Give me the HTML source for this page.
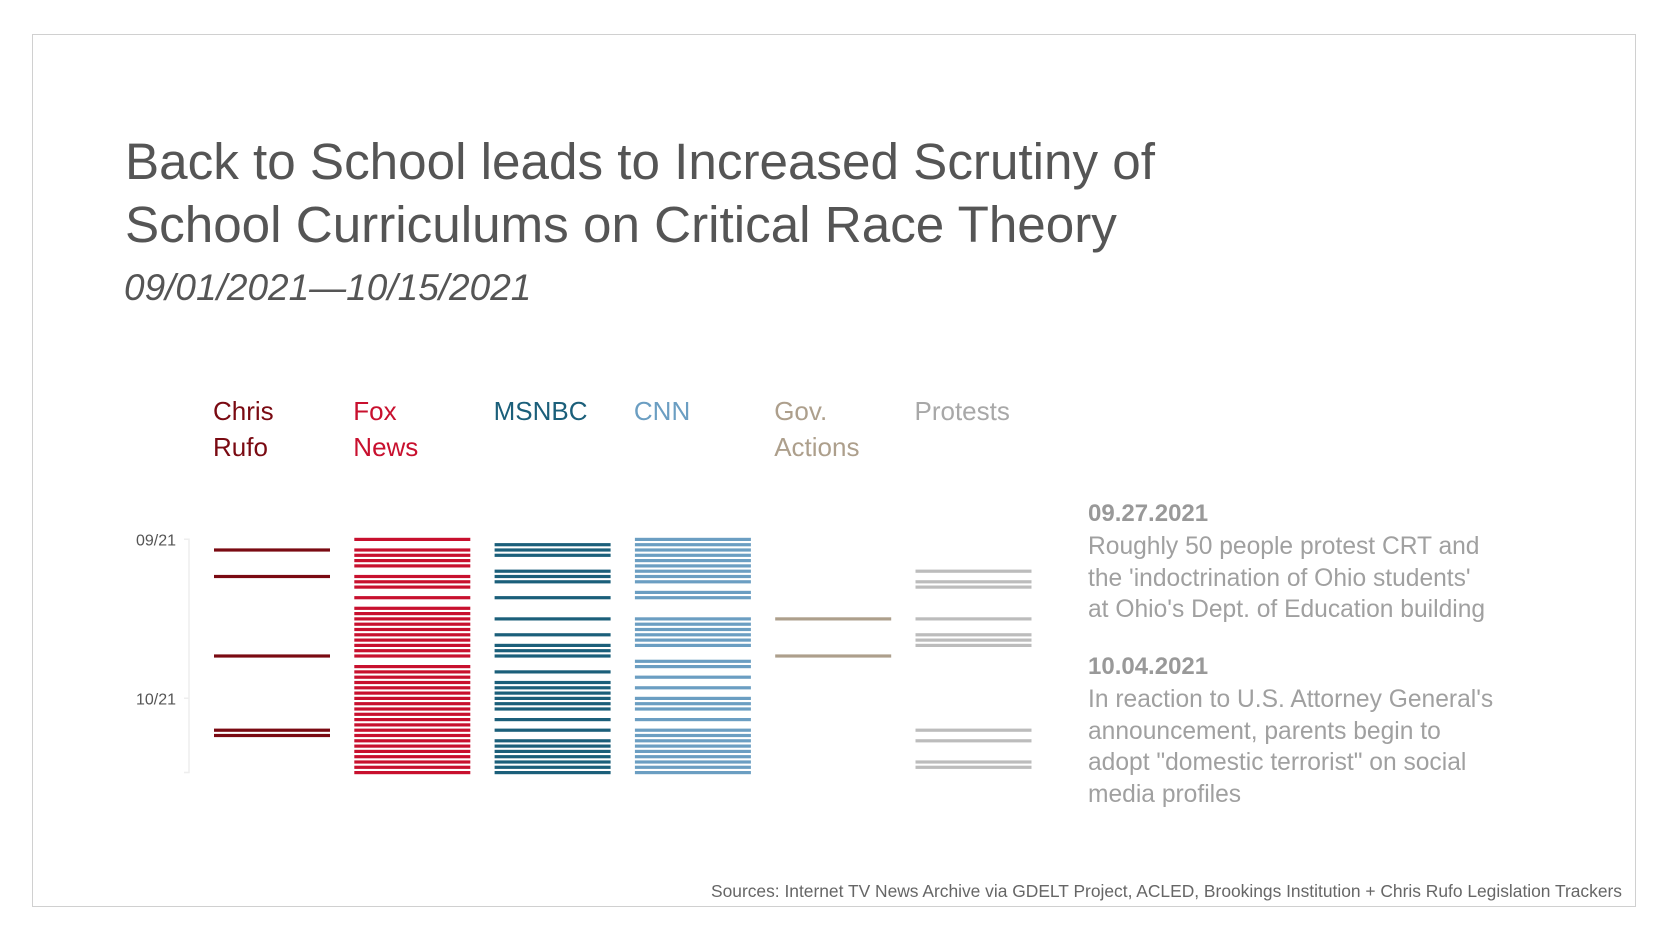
<!DOCTYPE html>
<html><head><meta charset="utf-8"><style>
body{margin:0;width:1680px;height:947px;background:#fff;font-family:"Liberation Sans",sans-serif;position:relative;overflow:hidden}
.t{position:absolute;white-space:nowrap}
</style></head><body>
<div style="position:absolute;left:32px;top:34px;width:1602px;height:871px;border:1px solid #d0d0d0"></div>
<div class="t" style="left:125px;top:130px;font-size:51.2px;color:#555;line-height:63px">Back to School leads to Increased Scrutiny of<br>School Curriculums on Critical Race Theory</div>
<div class="t" style="left:124px;top:267px;font-size:37px;font-style:italic;color:#555">09/01/2021—10/15/2021</div>
<svg id="c" width="1680" height="947" style="position:absolute;left:0;top:0"></svg>
<div class="t" style="left:1088px;top:500px;font-size:24px;font-weight:bold;color:#999">09.27.2021</div>
<div class="t" style="left:1088px;top:531px;font-size:24.6px;color:#a0a0a0;line-height:31.5px">Roughly 50 people protest CRT and<br>the 'indoctrination of Ohio students'<br>at Ohio's Dept. of Education building</div>
<div class="t" style="left:1088px;top:653px;font-size:24px;font-weight:bold;color:#999">10.04.2021</div>
<div class="t" style="left:1088px;top:684px;font-size:24.6px;color:#a0a0a0;line-height:31.5px">In reaction to U.S. Attorney General's<br>announcement, parents begin to<br>adopt "domestic terrorist" on social<br>media profiles</div>
<div class="t" style="right:58px;top:881px;font-size:17.4px;color:#666">Sources: Internet TV News Archive via GDELT Project, ACLED, Brookings Institution + Chris Rufo Legislation Trackers</div>
<script>
const seriesNames=["Chris\nRufo","Fox\nNews","MSNBC","CNN","Gov.\nActions","Protests"];
const seriesColors=["#7a0a12","#c8102e","#1b5f7a","#6b9ec2","#ad9f8c","#bcbcbc"];
const labelColors=["#7a0a12","#c8102e","#1b5f7a","#6b9ec2","#ad9f8c","#a8a8a8"];
const rufoDays=[2,7,22,36,37];
const foxDays=[0,2,3,4,5,7,8,9,11,13,14,15,16,17,18,19,20,21,22,24,25,26,27,28,29,30,31,32,33,34,35,36,37,38,39,40,41,42,43,44];
const msnbcDays=[1,2,3,6,7,8,11,15,18,20,21,22,25,27,28,29,30,31,32,34,36,38,39,40,41,42,43,44];
const cnnDays=[0,1,2,3,4,5,6,7,8,10,11,15,16,17,18,19,20,23,24,26,28,30,31,32,34,36,37,38,39,40,41,42,43,44];
const govDays=[15,22];
const protestDays=[6,8,9,15,18,19,20,36,38,42,43];
const tickLabels=["09/21","10/21"];
const tickDays=[0,30];
const allDays=[rufoDays,foxDays,msnbcDays,cnnDays,govDays,protestDays];
const svg=document.getElementById('c');const NS="http://www.w3.org/2000/svg";
const y=d=>539.3+d*5.3;const x=i=>214+i*140.3;
function mk(t,a){const e=document.createElementNS(NS,t);for(const k in a)e.setAttribute(k,a[k]);svg.appendChild(e);return e;}
const ax=mk('path',{d:`M184 ${y(0)}H189V${y(44)}H184M184 ${y(30)}H189`,stroke:'#eee',fill:'none','stroke-width':1.5});


tickLabels.forEach((l,i)=>{const t=mk('text',{x:176,y:y(tickDays[i])+6,'text-anchor':'end','font-size':16,fill:'#555','font-family':'Liberation Sans'});t.textContent=l;

});
seriesNames.forEach((n,i)=>{n.split('\n').forEach((p,j)=>{const t=mk('text',{x:x(i)-1,y:420+j*36,'font-size':26,fill:labelColors[i],'font-family':'Liberation Sans'});t.textContent=p;

});
allDays[i].forEach(d=>{const r=mk('rect',{x:x(i),y:y(d)-1.5,width:116,height:3.2,fill:seriesColors[i]});

});});
</script>
</body></html>
